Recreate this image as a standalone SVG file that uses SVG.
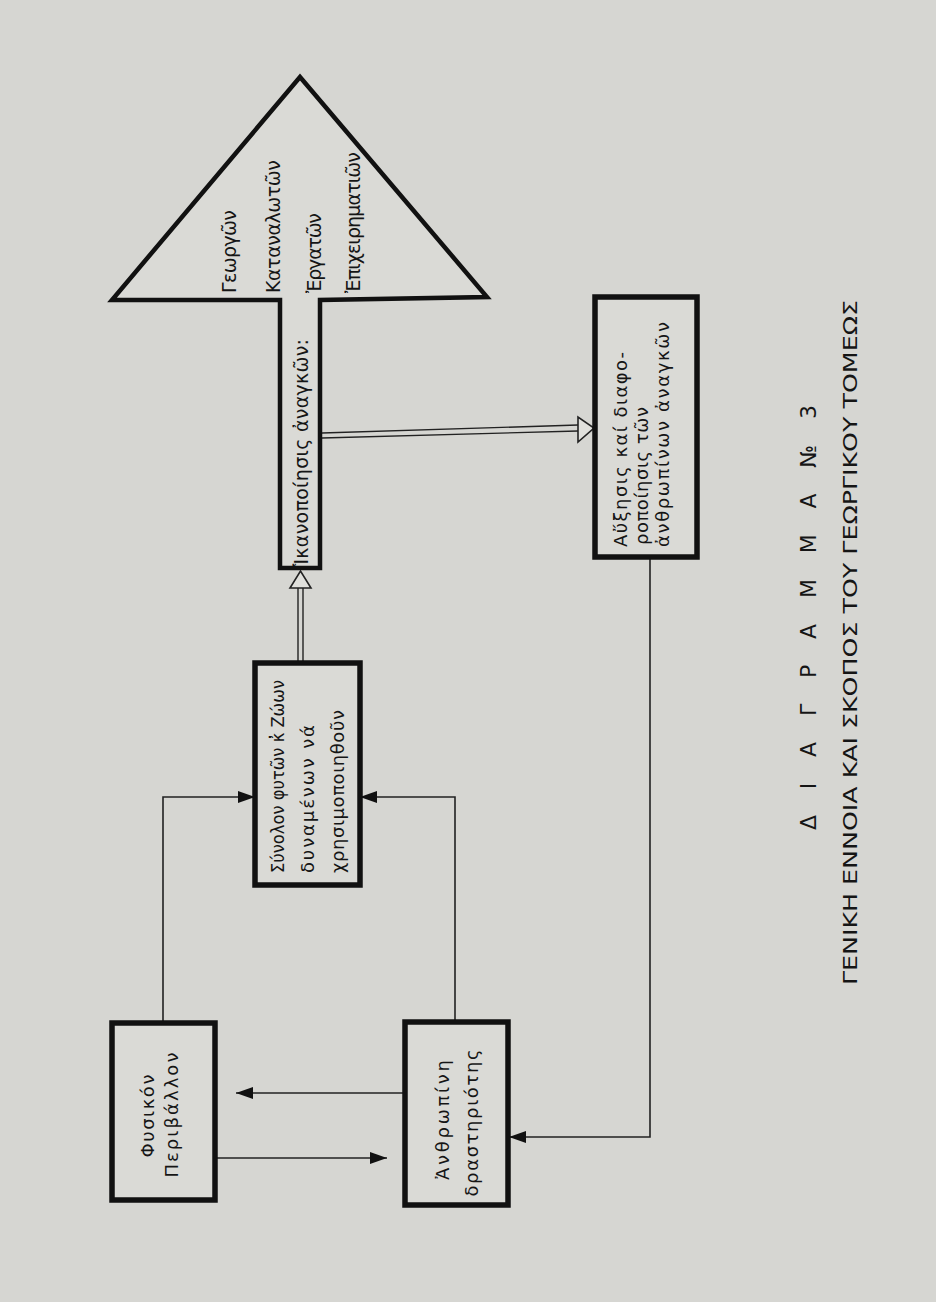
<svg xmlns="http://www.w3.org/2000/svg" width="936" height="1302" viewBox="0 0 936 1302">
<style>
.bg{fill:#d6d6d2}
.box{fill:#dadad6;stroke:#111;stroke-width:5.5}
.big{fill:#dadad6;stroke:#111;stroke-width:4.5;stroke-linejoin:miter}
.ln{fill:none;stroke:#222;stroke-width:1.6}
.dbl{fill:none;stroke:#222;stroke-width:1.4}
.head{fill:#e0e0dc;stroke:#222;stroke-width:1.6}
text{font-family:"DejaVu Sans","Noto Sans","Liberation Sans",sans-serif;fill:#151515}
.t{font-size:19px}
.s{font-size:18px}
.h1{font-size:22px}
.h2{font-size:20px}
</style>
<defs>
<marker id="ah" viewBox="0 0 17 12" refX="17" refY="6" markerWidth="17" markerHeight="12" markerUnits="userSpaceOnUse" orient="auto">
<path d="M0,0 L17,6 L0,12 z" fill="#111"/>
</marker>
</defs>
<rect class="bg" x="0" y="0" width="936" height="1302"/>

<g id="connectors">
<polyline class="ln" points="163,1023 163,797 255,797" marker-end="url(#ah)"/>
<polyline class="ln" points="455,1022 455,797 360,797" marker-end="url(#ah)"/>
<line class="ln" x1="405" y1="1093" x2="236" y2="1093" marker-end="url(#ah)"/>
<line class="ln" x1="215" y1="1158" x2="387" y2="1158" marker-end="url(#ah)"/>
<polyline class="ln" points="650,557 650,1137 509,1137" marker-end="url(#ah)"/>
<line class="dbl" x1="298" y1="663" x2="298" y2="588"/>
<line class="dbl" x1="303" y1="663" x2="303" y2="588"/>
<polygon class="head" points="290,588 311,588 300.5,571"/>
<line class="dbl" x1="322" y1="433" x2="578" y2="425"/>
<line class="dbl" x1="322" y1="438" x2="578" y2="431"/>
<polygon class="head" points="578,417 578,442 594,428"/>
</g>

<g id="node-satisfaction">
<polygon class="big" points="300,77 487,297 320,300 320,568 280,568 280,300 112,300"/>
<text class="t" transform="translate(236,293) rotate(-90)" textLength="83">Γεωργῶν</text>
<text class="t" transform="translate(280,293) rotate(-90)" textLength="133">Καταναλωτῶν</text>
<text class="t" transform="translate(321,293) rotate(-90)" textLength="80">Ἐργατῶν</text>
<text class="t" transform="translate(360,293) rotate(-90)" textLength="141">Ἐπιχειρηματιῶν</text>
<text class="t" transform="translate(308,566) rotate(-90)" textLength="227">Ἱκανοποίησις ἀναγκῶν:</text>
</g>

<g id="node-needs">
<rect class="box" x="595" y="297" width="102" height="260"/>
<text class="s" transform="translate(627,547) rotate(-90)" textLength="195">Αὔξησις καί διαφο-</text>
<text class="s" transform="translate(648,545) rotate(-90)" textLength="138">ροποίησις τῶν</text>
<text class="s" transform="translate(669,547) rotate(-90)" textLength="225">ἀνθρωπίνων ἀναγκῶν</text>
</g>

<g id="node-resources">
<rect class="box" x="255" y="663" width="105" height="222"/>
<text class="s" transform="translate(284,873) rotate(-90)" textLength="193" lengthAdjust="spacingAndGlyphs">Σύνολον φυτῶν κ̓ Ζώων</text>
<text class="s" transform="translate(314,873) rotate(-90)" textLength="148">δυναμένων νά</text>
<text class="s" transform="translate(344,873) rotate(-90)" textLength="163">χρησιμοποιηθοῦν</text>
</g>

<g id="node-environment">
<rect class="box" x="112" y="1023" width="103" height="177"/>
<text class="s" text-anchor="middle" transform="translate(154,1116) rotate(-90)" textLength="83">Φυσικόν</text>
<text class="s" text-anchor="middle" transform="translate(178,1115) rotate(-90)" textLength="125">Περιβάλλον</text>
</g>

<g id="node-activity">
<rect class="box" x="405" y="1022" width="103" height="183"/>
<text class="s" text-anchor="middle" transform="translate(449,1120) rotate(-90)" textLength="120">Ἀνθρωπίνη</text>
<text class="s" text-anchor="middle" transform="translate(478,1123) rotate(-90)" textLength="147">δραστηριότης</text>
</g>

<g id="title">
<text class="h1" transform="translate(816,830) rotate(-90)" textLength="425">Δ Ι Α Γ Ρ Α Μ Μ Α  №  3</text>
<text class="h2" transform="translate(857,985) rotate(-90)" textLength="685" lengthAdjust="spacingAndGlyphs">ΓΕΝΙΚΗ ΕΝΝΟΙΑ ΚΑΙ ΣΚΟΠΟΣ ΤΟΥ ΓΕΩΡΓΙΚΟΥ ΤΟΜΕΩΣ</text>
</g>
</svg>
